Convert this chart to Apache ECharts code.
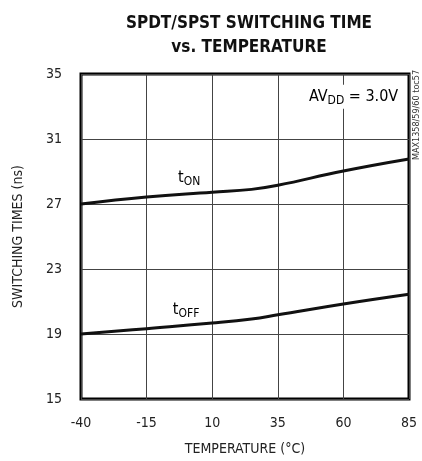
<!DOCTYPE html>
<html>
<head>
<meta charset="utf-8">
<script src="https://cdn.jsdelivr.net/npm/echarts@6/dist/echarts.min.js"></script>
<style>
  html, body { margin: 0; padding: 0; background: #fff; }
  #chart { width: 422px; height: 461px; }
</style>
</head>
<body>
<div id="chart"></div>
<script>
// Switching time vs. temperature (AVDD = 3.0V)
const temperatures = [-40, -15, 10, 25, 35, 60, 85];
const tOn  = [27.0, 27.43, 27.72, 27.9, 28.15, 29.03, 29.77];
const tOff = [19.0, 19.33, 19.67, 19.92, 20.18, 20.85, 21.45];
const xTicks = [-40, -15, 10, 35, 60, 85];
const yTicks = [15, 19, 23, 27, 31, 35];

const FONT = '"Liberation Sans Narrow", "DejaVu Sans Condensed", "Liberation Sans", sans-serif';

const chart = echarts.init(document.getElementById('chart'), null, { renderer: 'canvas' });

const toPairs = (xs, ys) => xs.map((x, i) => [x, ys[i]]);

const lineStyle = { color: '#111', width: 3 };

chart.setOption({
  animation: false,
  backgroundColor: '#fff',
  title: {
    text: 'SPDT/SPST SWITCHING TIME\nvs. TEMPERATURE',
    left: 244,
    top: 7,
    textAlign: 'center',
    textStyle: {
      fontFamily: FONT,
      fontWeight: 'bold',
      fontSize: 17,
      lineHeight: 24,
      color: '#111'
    }
  },
  grid: {
    left: 81, right: 13, top: 74, bottom: 60,
    show: true,
    borderColor: '#000',
    borderWidth: 3,
    backgroundColor: 'transparent'
  },
  xAxis: {
    type: 'value',
    min: xTicks[0],
    max: xTicks[xTicks.length - 1],
    interval: 25,
    name: 'TEMPERATURE (\u00B0C)',
    nameLocation: 'middle',
    nameGap: 43,
    nameTextStyle: { fontFamily: FONT, fontSize: 14, color: '#222' },
    axisLine: { show: false },
    axisTick: { show: false },
    axisLabel: { fontFamily: FONT, fontSize: 14, color: '#222', margin: 17 },
    splitLine: { show: true, lineStyle: { color: '#444', width: 1 } }
  },
  yAxis: {
    type: 'value',
    min: yTicks[0],
    max: yTicks[yTicks.length - 1],
    interval: 4,
    name: 'SWITCHING TIMES (ns)',
    nameLocation: 'middle',
    nameGap: 56,
    nameTextStyle: { fontFamily: FONT, fontSize: 14, color: '#222' },
    axisLine: { show: false },
    axisTick: { show: false },
    axisLabel: { fontFamily: FONT, fontSize: 14, color: '#222', margin: 19 },
    splitLine: { show: true, lineStyle: { color: '#444', width: 1 } }
  },
  series: [
    {
      name: 'tON', type: 'line', data: toPairs(temperatures, tOn),
      smooth: 0.45, showSymbol: false, lineStyle: lineStyle, z: 3
    },
    {
      name: 'tOFF', type: 'line', data: toPairs(temperatures, tOff),
      smooth: 0.45, showSymbol: false, lineStyle: lineStyle, z: 3
    }
  ]
});

// Annotations placed in data space
function place() {
  const pOn = chart.convertToPixel({ gridIndex: 0 }, [-3, 28.6]);
  const pOff = chart.convertToPixel({ gridIndex: 0 }, [-5, 20.5]);
  const pAv = chart.convertToPixel({ gridIndex: 0 }, [82, 33.6]);
  const pNote = chart.convertToPixel({ gridIndex: 0 }, [85, 33]);
  const subRich = {
    m: { fontFamily: FONT, fontSize: 16, color: '#222' },
    s: { fontFamily: FONT, fontSize: 12, color: '#222', padding: [8, 0, 0, 0] }
  };
  chart.setOption({
    graphic: [
      {
        type: 'text', x: pOn[0], y: pOn[1], z: 10,
        style: { rich: subRich, text: '{m|t}{s|ON}', align: 'left', verticalAlign: 'middle' }
      },
      {
        type: 'text', x: pOff[0], y: pOff[1], z: 10,
        style: { rich: subRich, text: '{m|t}{s|OFF}', align: 'left', verticalAlign: 'middle' }
      },
      {
        type: 'text', x: pAv[0], y: pAv[1], z: 10,
        style: {
          rich: {
            m: { fontFamily: FONT, fontSize: 16, color: '#222' },
            s: { fontFamily: FONT, fontSize: 12, color: '#222', padding: [8, 0, 0, 0] }
          },
          text: '{m|AV}{s|DD}{m| = 3.0V}',
          align: 'right', verticalAlign: 'middle',
          backgroundColor: '#fff', padding: [2, 3, 2, 3]
        }
      },
      {
        type: 'text', x: pNote[0] + 8, y: 115, rotation: Math.PI / 2, z: 10,
        style: {
          text: 'MAX1358/59/60 toc57',
          fontFamily: FONT, fontSize: 9, fill: '#333',
          align: 'center', verticalAlign: 'middle'
        }
      }
    ]
  });
}
place();
</script>
</body>
</html>
